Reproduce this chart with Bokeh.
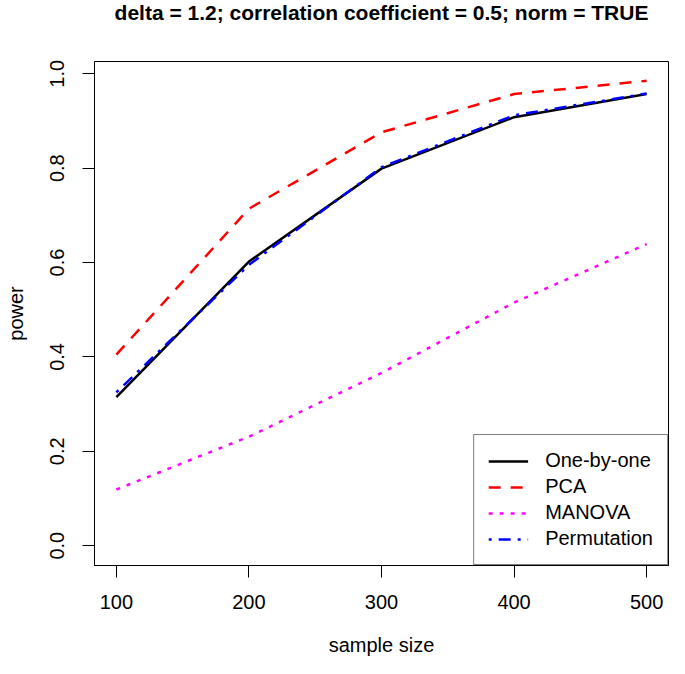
from bokeh.plotting import figure
from bokeh.models import FixedTicker, NumeralTickFormatter, Range1d, Title
from bokeh.embed import file_html
from bokeh.resources import INLINE

sample_size = [100, 200, 300, 400, 500]
one_by_one = [0.315, 0.602, 0.799, 0.908, 0.957]
pca = [0.405, 0.714, 0.876, 0.957, 0.985]
manova = [0.119, 0.231, 0.366, 0.515, 0.639]
permutation = [0.325, 0.595, 0.802, 0.912, 0.958]

x_ticks = [100, 200, 300, 400, 500]
y_ticks = [0.0, 0.2, 0.4, 0.6, 0.8, 1.0]

title_text = "delta = 1.2; correlation coefficient = 0.5; norm = TRUE"
x_title = "sample size"
y_title = "power"
FONT = "Liberation Sans"

W, H = 669, 658
FL, FR, FT, FB = 94, 668, 61, 566
X0, X1 = 83.5, 516.5
Y0, Y1 = -0.042, 1.026

p = figure(width=W, height=H, output_backend="svg", toolbar_location=None,
           x_range=Range1d(X0, X1), y_range=Range1d(Y0, Y1),
           min_border_left=FL, min_border_right=W - FR, min_border_top=FT,
           min_border_bottom=H - FB, title=None)

# spacer between frame and title (closest to the frame), then the title itself
spacer = Title(text=" ", text_font=FONT, text_font_size="20px", standoff=12,
               vertical_align="bottom")
p.add_layout(spacer, "above")
main_title = Title(text=title_text, align="center", vertical_align="top", standoff=0,
                   text_font=FONT, text_font_size="21px", text_font_style="bold",
                   text_color="black")
p.add_layout(main_title, "above")

p.background_fill_color = "white"
p.border_fill_color = "white"
p.outline_line_color = "black"
p.outline_line_width = 1
p.xgrid.visible = False
p.ygrid.visible = False

p.line(sample_size, one_by_one, line_color="black", line_width=2.5, legend_label="One-by-one")
p.line(sample_size, pca, line_color="#FF0000", line_width=2.5, line_dash="12 10", legend_label="PCA")
p.line(sample_size, manova, line_color="#FF00FF", line_width=2.5, line_dash="4 7", legend_label="MANOVA")
p.line(sample_size, permutation, line_color="#0000FF", line_width=2.5, line_dash="3 7 12 7", legend_label="Permutation")

for ax in (p.xaxis[0], p.yaxis[0]):
    ax.major_tick_out = 12
    ax.major_tick_in = 0
    ax.minor_tick_out = 0
    ax.minor_tick_in = 0
    ax.major_tick_line_color = "black"
    ax.axis_line_color = "black"
    ax.major_label_text_font = FONT
    ax.major_label_text_font_size = "20px"
    ax.major_label_text_color = "black"
    ax.axis_label_text_font = FONT
    ax.axis_label_text_font_size = "20px"
    ax.axis_label_text_font_style = "normal"
    ax.axis_label_text_color = "black"

p.xaxis.ticker = FixedTicker(ticks=x_ticks)
p.yaxis.ticker = FixedTicker(ticks=y_ticks)
p.yaxis.formatter = NumeralTickFormatter(format="0.0")
p.yaxis.major_label_orientation = "vertical"
p.xaxis.axis_label = x_title
p.yaxis.axis_label = y_title
p.xaxis.major_label_standoff = 17
p.yaxis.major_label_standoff = 18
p.xaxis.axis_label_standoff = 22
p.yaxis.axis_label_standoff = 21

lg = p.legend[0]
lg.location = "bottom_right"
lg.margin = 0
lg.padding = 14
lg.spacing = 3
lg.glyph_width = 40
lg.glyph_height = 20
lg.label_height = 20
lg.label_standoff = 17
lg.label_text_font = FONT
lg.label_text_font_size = "20px"
lg.label_text_color = "black"
lg.border_line_color = "black"
lg.border_line_width = 1
lg.background_fill_color = "white"
lg.background_fill_alpha = 1.0

open("out.html", "w").write(file_html(p, INLINE))
